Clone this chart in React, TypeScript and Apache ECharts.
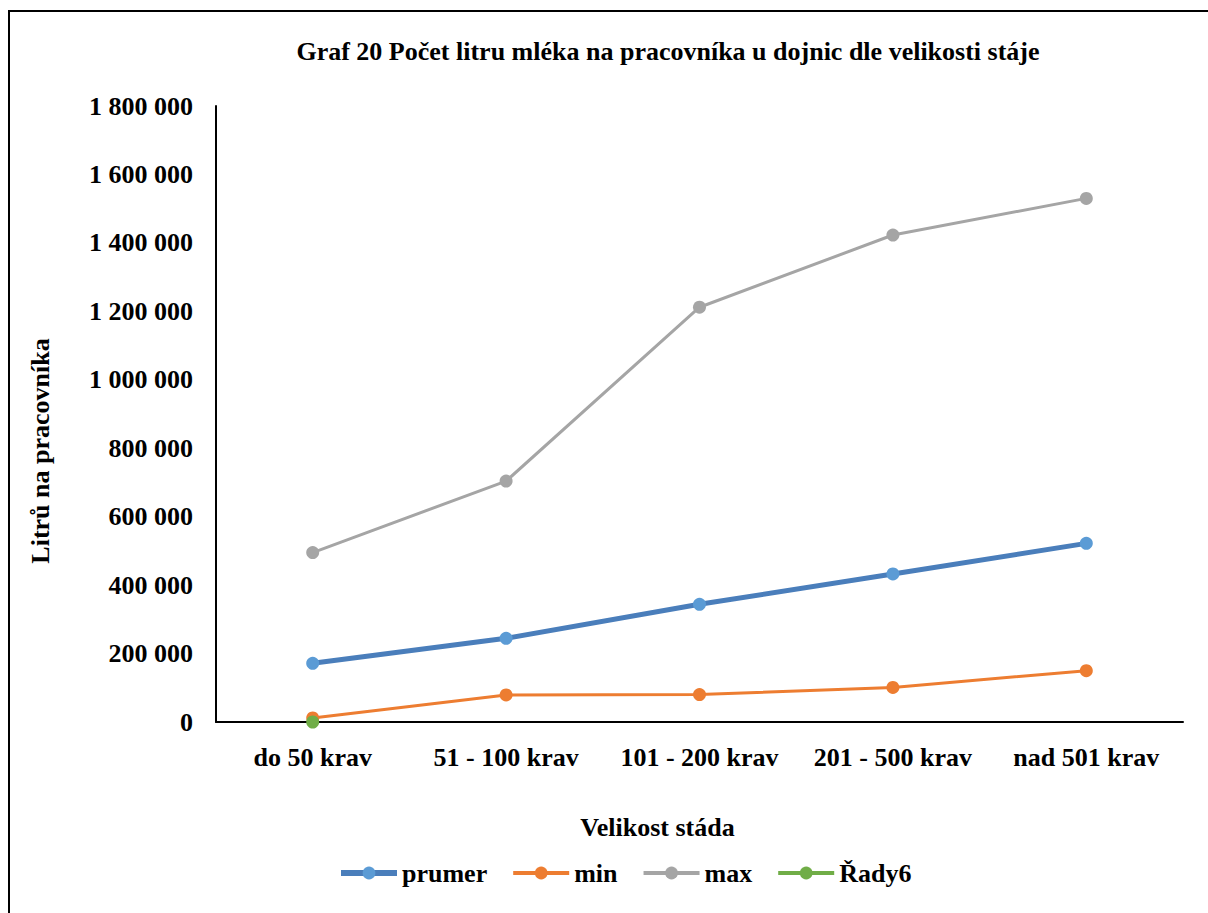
import React, { useEffect, useRef } from "react";
import * as echarts from "echarts";

const categories = ["do 50 krav", "51 - 100 krav", "101 - 200 krav", "201 - 500 krav", "nad 501 krav"];
const prumer = [171500, 244600, 344000, 432500, 522000];
const minVals = [12000, 79000, 80000, 101000, 150000];
const maxVals = [495000, 704000, 1212000, 1423000, 1530000];
const rady6 = [0, null, null, null, null];
const legendNames = ["prumer", "min", "max", "Řady6"];

const FONT = "Liberation Serif";

export default function App() {
  const ref = useRef<HTMLDivElement>(null);
  useEffect(() => {
    if (!ref.current) return;
    const chart = echarts.init(ref.current, undefined, { renderer: "svg" });
    const txt = { fontFamily: FONT, fontWeight: "bold" as const, fontSize: 26, color: "#000" };
    chart.setOption({
      animation: false,
      backgroundColor: "#fff",
      title: {
        text: "Graf 20 Počet litru mléka na pracovníka u dojnic dle velikosti stáje",
        left: 663,
        textAlign: "center",
        top: 33,
        textStyle: { ...txt },
      },
      graphic: [
        {
          type: "rect",
          shape: { x: 9, y: 11, width: 1400, height: 1100 },
          style: { fill: "none", stroke: "#000", lineWidth: 2 },
          silent: true,
        },
      ],
      legend: {
        bottom: 22,
        left: 333,
        itemWidth: 56,
        itemHeight: 16,
        itemGap: 24,
        textStyle: { ...txt },
        data: legendNames.map((n, i) => ({
          name: n,
          lineStyle: { width: i === 0 ? 6 : 4 },
        })),
      },
      grid: { left: 216, right: 25, top: 106, bottom: 191, containLabel: false },
      xAxis: {
        type: "category",
        data: categories,
        boundaryGap: true,
        axisLine: { lineStyle: { color: "#000", width: 2 } },
        axisTick: { show: false },
        axisLabel: { ...txt, margin: 22, interval: 0 },
        name: "Velikost stáda",
        nameLocation: "middle",
        nameGap: 92,
        nameTextStyle: { ...txt, padding: [0, 84, 0, 0] },
      },
      yAxis: {
        type: "value",
        min: 0,
        max: 1800000,
        interval: 200000,
        axisLine: { show: true, lineStyle: { color: "#000", width: 2 } },
        axisTick: { show: false },
        splitLine: { show: false },
        axisLabel: {
          ...txt,
          margin: 23,
          formatter: (v: number) => String(v).replace(/\B(?=(\d{3})+(?!\d))/g, " "),
        },
        name: "Litrů na pracovníka",
        nameLocation: "middle",
        nameGap: 163,
        nameRotate: 90,
        nameTextStyle: { ...txt, padding: [0, 74, 0, 0] },
      },
      series: [
        {
          name: "prumer",
          type: "line",
          data: prumer,
          symbol: "circle",
          symbolSize: 13,
          lineStyle: { color: "#4A7EBB", width: 5 },
          itemStyle: { color: "#5B9BD5" },
          z: 4,
        },
        {
          name: "min",
          type: "line",
          data: minVals,
          symbol: "circle",
          symbolSize: 13,
          lineStyle: { color: "#ED7D31", width: 3 },
          itemStyle: { color: "#ED7D31" },
          z: 3,
        },
        {
          name: "max",
          type: "line",
          data: maxVals,
          symbol: "circle",
          symbolSize: 13,
          lineStyle: { color: "#A5A5A5", width: 3 },
          itemStyle: { color: "#A5A5A5" },
          z: 3,
        },
        {
          name: "Řady6",
          type: "line",
          data: rady6,
          symbol: "circle",
          symbolSize: 13,
          lineStyle: { color: "#70AD47", width: 3 },
          itemStyle: { color: "#70AD47" },
          z: 5,
        },
      ],
    });
    return () => chart.dispose();
  }, []);
  return (
    <div
      ref={ref}
      style={{ position: "absolute", left: 0, top: 0, width: 1208, height: 913 }}
    />
  );
}
